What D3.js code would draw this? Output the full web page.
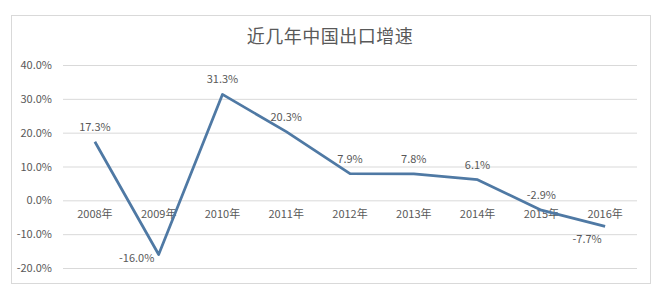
<!DOCTYPE html>
<html>
<head>
<meta charset="utf-8">
<script src="https://cdnjs.cloudflare.com/ajax/libs/d3/7.8.5/d3.min.js"></script>
<style>
  body { margin: 0; background: #fff; }
  text { font-family: "Noto Sans CJK SC", "Noto Sans", sans-serif; fill: #595959; }
</style>
</head>
<body>
<div id="chart"></div>
<script>
// chart data
var title = "近几年中国出口增速";
var years = ["2008年", "2009年", "2010年", "2011年", "2012年", "2013年", "2014年", "2015年", "2016年"];
var growth = [17.3, -16.0, 31.3, 20.3, 7.9, 7.8, 6.1, -2.9, -7.7];
var yTicks = [40, 30, 20, 10, 0, -10, -20];
// where each data label sits relative to its point
var labelPos = ["top", "left", "top", "top", "top", "top", "top", "top", "bottomleft"];

var svgWidth = 659;
var svgHeight = 287;

var margin = { top: 65, right: 22, bottom: 19, left: 63 };
var width = svgWidth - margin.left - margin.right;
var height = svgHeight - margin.top - margin.bottom;

var svg = d3.select("#chart")
    .append("svg")
    .attr("width", svgWidth)
    .attr("height", svgHeight);

// outer frame
svg.append("rect")
    .attr("x", 11.5)
    .attr("y", 15.5)
    .attr("width", 639)
    .attr("height", 268)
    .attr("fill", "#fff")
    .attr("stroke", "#d9d9d9");

svg.append("text")
    .attr("x", 330)
    .attr("y", 43)
    .attr("text-anchor", "middle")
    .attr("font-size", 18)
    .style("letter-spacing", "0.5px")
    .text(title);

var chartGroup = svg.append("g")
    .attr("transform", `translate(${margin.left}, ${margin.top})`);

var x = d3.scaleBand()
    .domain(years)
    .range([0, width]);

var y = d3.scaleLinear()
    .domain([-20, 40])
    .range([height, 0]);

// gridlines + y labels
var yAxis = d3.axisLeft(y)
    .tickValues(yTicks)
    .tickSize(-width)
    .tickPadding(11)
    .tickFormat(d => d.toFixed(1) + "%");

var yG = chartGroup.append("g").call(yAxis);
yG.select(".domain").remove();
yG.selectAll(".tick line").attr("stroke", "#d9d9d9");
yG.selectAll(".tick text")
    .attr("font-size", 11)
    .attr("fill", "#595959")
    .style("font-family", "'Noto Sans CJK SC', sans-serif");

// category labels sit just under the zero line
var xAxis = d3.axisBottom(x).tickSize(0).tickPadding(10);
var xG = chartGroup.append("g")
    .attr("transform", `translate(0, ${y(0)})`)
    .call(xAxis);
xG.select(".domain").remove();
xG.selectAll(".tick text")
    .attr("font-size", 11)
    .attr("fill", "#595959")
    .style("font-family", "'Noto Sans CJK SC', sans-serif");

var cx = d => x(d) + x.bandwidth() / 2;

var line = d3.line()
    .x((d, i) => cx(years[i]))
    .y(d => y(d));

chartGroup.append("path")
    .datum(growth)
    .attr("fill", "none")
    .attr("stroke", "#4f79a4")
    .attr("stroke-width", 2.75)
    .attr("stroke-linejoin", "round")
    .attr("d", line);

var offsets = {
    top: [0, -11],
    left: [-22, 8],
    bottomleft: [-18, 17]
};

chartGroup.selectAll(".dlabel")
    .data(growth)
    .enter()
    .append("text")
    .attr("class", "dlabel")
    .attr("x", (d, i) => cx(years[i]) + offsets[labelPos[i]][0])
    .attr("y", (d, i) => y(d) + offsets[labelPos[i]][1])
    .attr("text-anchor", "middle")
    .attr("font-size", 11)
    .text(d => d.toFixed(1) + "%");
</script>
</body>
</html>
